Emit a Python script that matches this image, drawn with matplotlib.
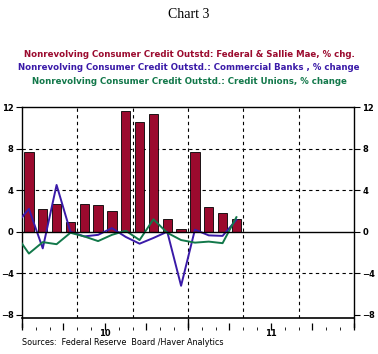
import numpy as np
import matplotlib
matplotlib.use("Agg")
import matplotlib.pyplot as plt

# monthly values, Jan 2010 - Apr 2011 (lines also carry Dec 2009, clipped at edge)
months = ['Jan10', 'Feb10', 'Mar10', 'Apr10', 'May10', 'Jun10', 'Jul10', 'Aug10',
          'Sep10', 'Oct10', 'Nov10', 'Dec10', 'Jan11', 'Feb11', 'Mar11', 'Apr11']
federal = [7.7, 2.2, 2.7, 0.9, 2.7, 2.6, 2.0, 11.6, 10.6, 11.3, 1.2, 0.3, 7.7, 2.4, 1.8, 1.2]
banks = [0.6, 2.2, -1.6, 4.5, 0.0, -0.45, -0.3, 0.35, -0.5, -1.15, -0.6, 0.0, -5.2,
         0.2, -0.35, -0.4, 1.15]
unions = [-0.2, -2.1, -1.0, -1.2, -0.1, -0.45, -0.9, -0.3, 0.1, -0.8, 1.2, -0.1, -0.8,
          -1.05, -0.95, -1.1, 1.4]
year_labels = ['10', '11']

red = '#9B0A2E'
purple = '#3A1AA8'
green = '#12784A'

fig = plt.figure(figsize=(3.78, 3.54), dpi=100)
ax = fig.add_axes([0.0582, 0.1017, 0.8783, 0.596])

x_bar = np.arange(len(federal)) + 0.5
x_line = np.arange(len(banks)) - 0.5

ax.bar(x_bar, federal, width=0.68, color=red, edgecolor='black', linewidth=0.6, zorder=3)
ax.plot(x_line, banks, color=purple, lw=1.4, zorder=4)
ax.plot(x_line, unions, color=green, lw=1.4, zorder=4)

ax.set_xlim(0, 24)
ax.set_ylim(-8.3, 12)

# grid
for v in [8, 4, -4]:
    ax.axhline(v, color='black', lw=0.8, ls=(0, (3, 3)), zorder=1)
for m in [4, 8, 12, 16, 20]:
    ax.axvline(m, color='black', lw=0.8, ls=(0, (3, 3)), zorder=1)
ax.axhline(0, color='black', lw=1.0, zorder=5)
ax.axhline(-8.3, color='black', lw=1.2, zorder=6, clip_on=False)

# y axis on both sides
ax.set_yticks([12, 8, 4, 0, -4, -8])
ax.tick_params(axis='y', which='both', direction='out', length=4, width=0.8,
               left=True, right=True, labelleft=True, labelright=True,
               labelsize=6, pad=2)
for lab in ax.get_yticklabels():
    lab.set_fontweight('bold')

# x axis: ticks stand up from an invisible baseline below the frame
ax.spines['bottom'].set_position(('outward', 9))
ax.spines['bottom'].set_color('none')
ax.set_xticks(np.arange(0, 25, 3))
ax.set_xticks(np.arange(0, 25, 1), minor=True)
ax.tick_params(axis='x', which='major', direction='in', length=5, width=0.9,
               labelbottom=False)
ax.tick_params(axis='x', which='minor', direction='in', length=2.5, width=0.6)
for yr in [0, 12, 24]:
    ax.plot([yr, yr], [-8.35, -9.2], color='black', lw=1.0, clip_on=False)
for spine in ['left', 'right', 'top']:
    ax.spines[spine].set_linewidth(1.0)

for i, lab in enumerate(year_labels):
    ax.text(6 + 12 * i, -0.05, lab, transform=ax.get_xaxis_transform(),
            ha='center', va='top', fontsize=6, fontweight='bold')

fig.text(0.5, 0.96, 'Chart 3', ha='center', va='center', fontsize=10,
         family='Liberation Serif')
fig.text(0.5, 0.845, 'Nonrevolving Consumer Credit Outstd: Federal & Sallie Mae, % chg.',
         ha='center', va='center', fontsize=6.2, fontweight='bold', color=red)
fig.text(0.5, 0.808, 'Nonrevolving Consumer Credit Outstd.: Commercial Banks , % change',
         ha='center', va='center', fontsize=6.2, fontweight='bold', color=purple)
fig.text(0.5, 0.771, 'Nonrevolving Consumer Credit Outstd.: Credit Unions, % change',
         ha='center', va='center', fontsize=6.2, fontweight='bold', color=green)
fig.text(0.058, 0.033, 'Sources:  Federal Reserve  Board /Haver Analytics',
         ha='left', va='center', fontsize=5.8)

fig.savefig('out.png', dpi=100)
